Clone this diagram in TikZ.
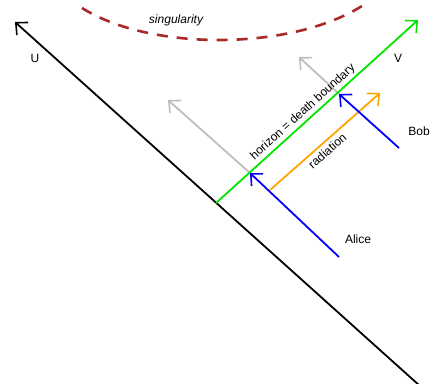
\documentclass[tikz,border=0pt]{standalone}
\usepackage{fontspec}
\setmainfont{Liberation Sans}
\usetikzlibrary{arrows.meta}
\definecolor{sing}{RGB}{170,40,40}
\definecolor{hor}{RGB}{0,230,0}
\definecolor{rad}{RGB}{255,165,0}
\definecolor{ghost}{RGB}{190,190,190}
\begin{document}
\begin{tikzpicture}[x=1pt,y=-1pt,
  tip/.style={-{Straight Barb[length=9pt,width=17pt,line width=1.6pt]}},
  ln/.style={line width=1.8pt},
  lbl/.style={font=\fontsize{12}{14}\selectfont, inner sep=1pt}]
\useasboundingbox (0,0) rectangle (430,383);
% coordinates
\coordinate (Ubot) at (420,386);
\coordinate (Utop) at (15,22);
\coordinate (H0) at (216,203);
\coordinate (Vtop) at (418,20);
\coordinate (A0) at (339,257);
\coordinate (A1) at (250,173);
\coordinate (B0) at (399,148);
\coordinate (B1) at (339,94);
\coordinate (GA) at (168,100);
\coordinate (GB) at (299,57);
\coordinate (R0) at (270,190);
\coordinate (R1) at (380,93);
\coordinate (S0) at (82,8);
\coordinate (S1) at (362,6);
% singularity
\draw[sing, line width=2.6pt, dash pattern=on 11pt off 9pt] (S0) .. controls (150,51) and (290,51) .. (S1);
\node[lbl, font=\fontsize{12}{14}\selectfont\itshape] (sl) at (176,20) {singularity};
% U axis
\draw[ln, black, tip] (Ubot) -- (Utop);
\node[lbl] (ul) at (35,58) {U};
% gray continuations
\draw[ln, ghost, tip] (A1) -- (GA);
\draw[ln, ghost, tip] (B1) -- (GB);
% horizon
\draw[ln, hor, tip] (H0) -- (Vtop);
\node[lbl] (vl) at (398,58) {V};
\path (H0) -- (Vtop) node[lbl, pos=0.46, sloped, above=2pt] (hl) {horizon = death boundary};
% radiation
\draw[ln, rad, tip] (R0) -- (R1);
\path (R0) -- (R1) node[lbl, pos=0.47, sloped, below=3pt] (rl) {radiation};
% observers
\draw[ln, blue, tip] (A0) -- (A1);
\draw[ln, blue, tip] (B0) -- (B1);
\node[lbl] (al) at (358,239) {Alice};
\node[lbl] (bl) at (419,131) {Bob};
\end{tikzpicture}
\end{document}
